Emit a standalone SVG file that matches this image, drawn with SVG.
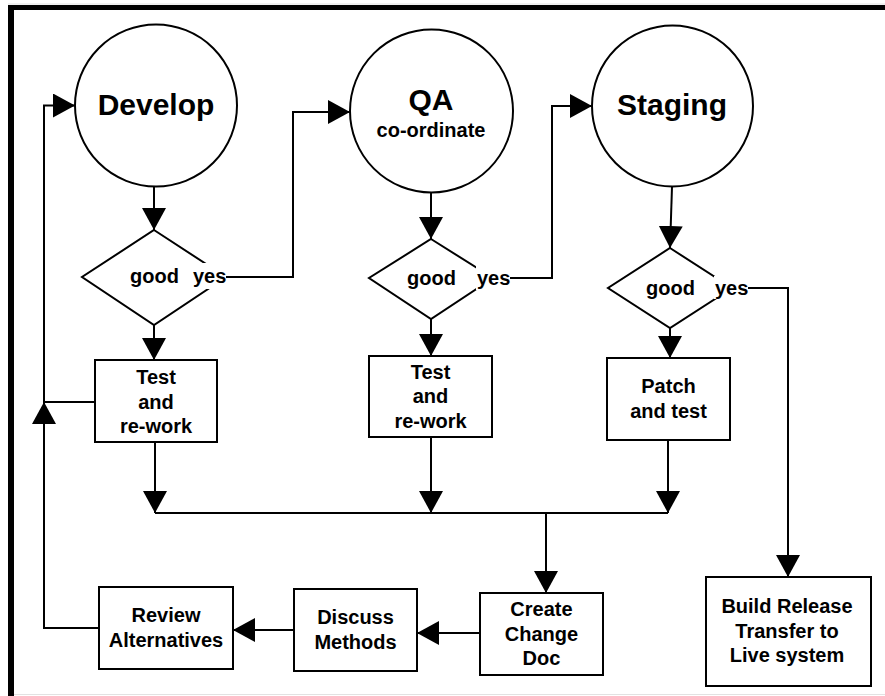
<svg xmlns="http://www.w3.org/2000/svg" width="885" height="696" viewBox="0 0 885 696">
<defs>
<marker id="arr" viewBox="0 0 22 24" refX="22" refY="12" markerWidth="22" markerHeight="24" markerUnits="userSpaceOnUse" orient="auto">
<path d="M0,0 L22,12 L0,24 z" fill="#000"/>
</marker>
<style>
.shape{fill:#fff;stroke:#000;stroke-width:2}
.conn{fill:none;stroke:#000;stroke-width:2}
.arr{marker-end:url(#arr)}
text{font-family:"Liberation Sans",Arial,sans-serif;font-weight:bold;fill:#000}
.big{font-size:30px;text-anchor:middle}
.sm{font-size:20px}
.c{text-anchor:middle}
.mask{fill:#fff;stroke:none}
</style>
</defs>
<rect x="0" y="0" width="885" height="696" fill="#fff"/>
<g id="frame">
<line x1="8" y1="4" x2="885" y2="4" stroke="#e2e2e2" stroke-width="1"/>
<rect x="8" y="5" width="877" height="5" fill="#000"/>
<rect x="8" y="5" width="6" height="691" fill="#000"/>
<line x1="14" y1="694.5" x2="885" y2="694.5" stroke="#e2e2e2" stroke-width="1"/>
</g>
<g id="connectors">
<path class="conn arr" d="M154,187 L154,230"/>
<path class="conn arr" d="M154,325 L154,360"/>
<path class="conn arr" d="M226,277 L293,277 L293,112 L350,112"/>
<path class="conn arr" d="M431,193 L431,239"/>
<path class="conn arr" d="M431,319 L431,356"/>
<path class="conn arr" d="M509,278 L552,278 L552,106 L592,106"/>
<path class="conn arr" d="M672,187 L670,248"/>
<path class="conn arr" d="M670,328 L670,358"/>
<path class="conn arr" d="M747,288 L788,288 L788,577"/>
<path class="conn arr" d="M155,442 L155,513"/>
<path class="conn arr" d="M431,437 L431,513"/>
<path class="conn arr" d="M668,440 L668,513"/>
<path class="conn" d="M155,513 L668,513"/>
<path class="conn arr" d="M546,513 L546,593"/>
<path class="conn arr" d="M480,633 L417,633"/>
<path class="conn arr" d="M294,630 L233,630"/>
<path class="conn arr" d="M99,628 L44,628 L44,402"/>
<path class="conn arr" d="M95,402 L44,402 L44,105.5 L75,105.5"/>
</g>
<g id="develop">
<circle class="shape" cx="156" cy="105.5" r="81"/>
<text class="big" x="156" y="115">Develop</text>
</g>
<g id="qa">
<circle class="shape" cx="431.5" cy="111" r="81.5"/>
<text class="big" x="431" y="110">QA</text>
<text class="sm c" x="431" y="137">co-ordinate</text>
</g>
<g id="staging">
<circle class="shape" cx="672.5" cy="106" r="80.5"/>
<text class="big" x="672" y="115">Staging</text>
</g>
<g id="good1">
<polygon class="shape" points="154,230 226,277 154,325 82,277"/>
<rect class="mask" x="191" y="263" width="35" height="26"/>
<text class="sm" x="130" y="283">good</text>
<text class="sm" x="193" y="283">yes</text>
</g>
<g id="good2">
<polygon class="shape" points="431,239 493,278 431,319 369,278"/>
<rect class="mask" x="476" y="266" width="34" height="24"/>
<text class="sm" x="407" y="285">good</text>
<text class="sm" x="477" y="285">yes</text>
</g>
<g id="good3">
<polygon class="shape" points="670,248 732,288 670,328 608,288"/>
<rect class="mask" x="714" y="276" width="34" height="23"/>
<text class="sm" x="646" y="295">good</text>
<text class="sm" x="715" y="295">yes</text>
</g>
<g id="rework1">
<rect class="shape" x="95" y="360" width="122" height="82"/>
<text class="sm c" x="156" y="384">Test</text>
<text class="sm c" x="156" y="409">and</text>
<text class="sm c" x="156" y="433">re-work</text>
</g>
<g id="rework2">
<rect class="shape" x="369" y="356" width="123" height="81"/>
<text class="sm c" x="430.5" y="379">Test</text>
<text class="sm c" x="430.5" y="403">and</text>
<text class="sm c" x="430.5" y="428">re-work</text>
</g>
<g id="patch">
<rect class="shape" x="607" y="358" width="123" height="82"/>
<text class="sm c" x="668.5" y="393">Patch</text>
<text class="sm c" x="668.5" y="418">and test</text>
</g>
<g id="changedoc">
<rect class="shape" x="480" y="593" width="123" height="82"/>
<text class="sm c" x="541.5" y="616">Create</text>
<text class="sm c" x="541.5" y="641">Change</text>
<text class="sm c" x="541.5" y="665">Doc</text>
</g>
<g id="discuss">
<rect class="shape" x="294" y="589" width="123" height="82"/>
<text class="sm c" x="355.5" y="624">Discuss</text>
<text class="sm c" x="355.5" y="649">Methods</text>
</g>
<g id="review">
<rect class="shape" x="99" y="587" width="134" height="82"/>
<text class="sm c" x="166" y="622">Review</text>
<text class="sm c" x="166" y="647">Alternatives</text>
</g>
<g id="release">
<rect class="shape" x="706" y="577" width="165" height="109"/>
<text class="sm c" x="787" y="613">Build Release</text>
<text class="sm c" x="787" y="638">Transfer to</text>
<text class="sm c" x="787" y="662">Live system</text>
</g>
</svg>
